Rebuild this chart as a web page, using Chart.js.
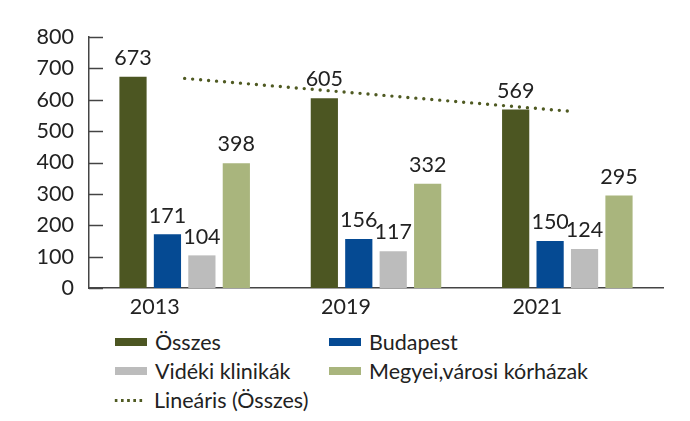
<!DOCTYPE html>
<html>
<head>
<meta charset="utf-8">
<script src="https://cdn.jsdelivr.net/npm/chart.js@4.4.1/dist/chart.umd.min.js"></script>
<style>
    html, body { margin: 0; padding: 0; background: #fff; }
    body { width: 690px; height: 421px; position: relative; overflow: hidden; font-family: Lato, 'Open Sans', sans-serif; color: #222; }
    #wrap { position: absolute; left: 0; top: 0; width: 690px; height: 322px; }
    #legend { position: absolute; left: 113px; top: 330px; display: grid; grid-template-columns: 214px 300px; row-gap: 5px; font-size: 21.5px; line-height: 24px; }
    .lg-item { display: flex; align-items: center; white-space: nowrap; }
    .lg-box { width: 32px; height: 8px; margin-right: 8px; margin-left: 2px; }
    .lg-dots { width: 32px; height: 3px; margin-right: 9px; margin-left: 0; background-image: radial-gradient(circle, #4f5a22 1.5px, transparent 1.7px); background-size: 6.2px 3px; background-repeat: repeat-x; }
</style>
</head>
<body>
<div id="wrap"><canvas id="chart"></canvas></div>
<div id="legend"></div>
<script>
const years = ['2013', '2019', '2021'];
const osszes = [673, 605, 569];
const budapest = [171, 156, 150];
const videki = [104, 117, 124];
const megyei = [398, 332, 295];
const trendOsszes = [668, 616, 564];
const yTicks = [0, 100, 200, 300, 400, 500, 600, 700, 800];

const seriesNames = ['Összes', 'Budapest', 'Vidéki klinikák', 'Megyei,városi kórházak'];
const seriesColors = ['#4c5622', '#054a93', '#bcbcbc', '#a9b57d'];
const trendName = 'Lineáris (Összes)';
const trendColor = '#4f5a22';

const FONT = 'Lato, "Open Sans", sans-serif';

// value labels above the bars
const barLabels = {
    id: 'barLabels',
    afterDatasetsDraw(chart) {
        const ctx = chart.ctx;
        ctx.save();
        ctx.font = '21.5px ' + FONT;
        ctx.fillStyle = '#222';
        ctx.textAlign = 'center';
        ctx.textBaseline = 'bottom';
        chart.data.datasets.forEach((ds, i) => {
            if (ds.type === 'line') return;
            const meta = chart.getDatasetMeta(i);
            meta.data.forEach((el, j) => {
                ctx.fillText(String(ds.data[j]), el.x, el.y - 8);
            });
        });
        ctx.restore();
    }
};

// small tick marks pointing into the plot
const innerTicks = {
    id: 'innerTicks',
    afterDraw(chart) {
        const y = chart.scales.y;
        const ctx = chart.ctx;
        ctx.save();
        ctx.strokeStyle = '#444';
        ctx.lineWidth = 1.5;
        yTicks.forEach(v => {
            const py = Math.round(y.getPixelForValue(v)) + 0.5;
            ctx.beginPath();
            ctx.moveTo(chart.chartArea.left, py);
            ctx.lineTo(chart.chartArea.left + 14, py);
            ctx.stroke();
        });
        ctx.restore();
    }
};

const barSets = [osszes, budapest, videki, megyei].map((d, i) => ({
    type: 'bar',
    label: seriesNames[i],
    data: d,
    backgroundColor: seriesColors[i],
    borderWidth: 0,
    categoryPercentage: 0.72,
    barPercentage: 0.79,
    order: 2,
}));

new Chart(document.getElementById('chart'), {
    data: {
        labels: years,
        datasets: barSets.concat([{
            type: 'line',
            label: trendName,
            data: trendOsszes,
            borderColor: trendColor,
            borderWidth: 3.4,
            borderDash: [0, 8],
            borderCapStyle: 'round',
            pointRadius: 0,
            fill: false,
            order: 1,
        }]),
    },
    options: {
        responsive: true,
        maintainAspectRatio: false,
        animation: false,
        layout: { padding: { left: 0, right: 27, top: 37, bottom: 0 } },
        plugins: {
            legend: { display: false },
            tooltip: { enabled: false },
        },
        scales: {
            x: {
                grid: { display: false, drawTicks: false },
                border: { display: true, color: '#444', width: 1.5 },
                ticks: { color: '#222', font: { family: FONT, size: 21.5 }, padding: 6, labelOffset: -30 },
                afterFit: (s) => { s.height = 34; },
            },
            y: {
                min: 0,
                max: 800,
                grid: { display: false, drawTicks: false },
                border: { display: true, color: '#444', width: 1.5 },
                ticks: { stepSize: 100, color: '#222', font: { family: FONT, size: 21.5 }, padding: 15 },
                afterFit: (s) => { s.width = 89; },
            },
        },
    },
    plugins: [barLabels, innerTicks],
});

// legend in two columns, like the original
const legend = document.getElementById('legend');
seriesNames.forEach((name, i) => {
    const item = document.createElement('div');
    item.className = 'lg-item';
    item.innerHTML = '<span class="lg-box" style="background:' + seriesColors[i] + '"></span><span></span>';
    item.lastChild.textContent = name;
    legend.appendChild(item);
});
const trendItem = document.createElement('div');
trendItem.className = 'lg-item';
trendItem.innerHTML = '<span class="lg-dots"></span><span></span>';
trendItem.lastChild.textContent = trendName;
legend.appendChild(trendItem);
</script>
</body>
</html>
